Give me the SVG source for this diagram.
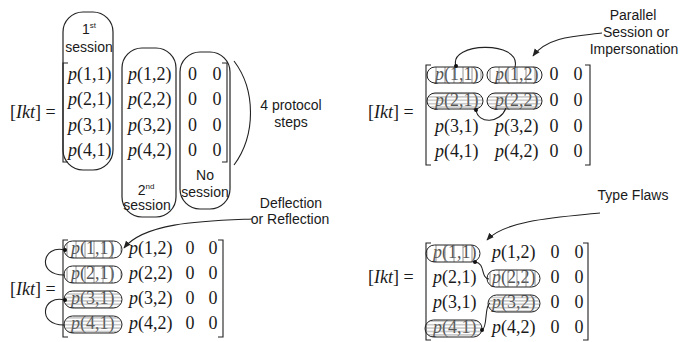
<svg xmlns="http://www.w3.org/2000/svg" width="680" height="342" viewBox="0 0 680 342">
<style>
.m{font-family:"Liberation Serif","Times New Roman",serif;font-size:18px;fill:#1a1a1a}
.g{fill:#555}
.i{font-style:italic}
.c{text-anchor:middle}
.s{font-family:"Liberation Sans",Arial,sans-serif;font-size:14px;fill:#1a1a1a;text-anchor:middle}
.sup{font-size:8px}
.br{fill:none;stroke:#222;stroke-width:1.1}
.box{fill:none;stroke:#222;stroke-width:1.2}
.ov{stroke:#222;stroke-width:1}
.ln{fill:none;stroke:#222;stroke-width:1.1}
</style>
<defs>
<pattern id="vh" width="9" height="4" patternUnits="userSpaceOnUse"><line x1="4" y1="0" x2="4" y2="4" stroke="#777" stroke-width="0.8"/></pattern>
<pattern id="hh" width="4" height="3.4" patternUnits="userSpaceOnUse"><line x1="0" y1="1.7" x2="4" y2="1.7" stroke="#777" stroke-width="0.7"/></pattern>
<marker id="ah" viewBox="0 0 10 10" refX="9" refY="5" markerWidth="7" markerHeight="7" orient="auto"><path d="M0,1 L10,5 L0,9 z" fill="#222"/></marker>
</defs>
<rect width="680" height="342" fill="#fff"/>

<!-- Top-left -->
<g id="tl-matrix">
<text class="m" x="10" y="118">[<tspan class="i">Ikt</tspan>] =</text>
<path class="br" d="M68,63 H63 V162 H68"/>
<path class="br" d="M222,63 H227 V162 H222"/>
<text class="m" x="68" y="80"><tspan class="i">p</tspan>(1,1)</text>
<text class="m" x="68" y="105"><tspan class="i">p</tspan>(2,1)</text>
<text class="m" x="68" y="131"><tspan class="i">p</tspan>(3,1)</text>
<text class="m" x="68" y="156"><tspan class="i">p</tspan>(4,1)</text>
<text class="m" x="128" y="80"><tspan class="i">p</tspan>(1,2)</text>
<text class="m" x="128" y="105"><tspan class="i">p</tspan>(2,2)</text>
<text class="m" x="128" y="131"><tspan class="i">p</tspan>(3,2)</text>
<text class="m" x="128" y="156"><tspan class="i">p</tspan>(4,2)</text>
<text class="m c" x="192.5" y="80">0</text><text class="m c" x="217" y="80">0</text>
<text class="m c" x="192.5" y="105">0</text><text class="m c" x="217" y="105">0</text>
<text class="m c" x="192.5" y="131">0</text><text class="m c" x="217" y="131">0</text>
<text class="m c" x="192.5" y="156">0</text><text class="m c" x="217" y="156">0</text>
</g>
<g id="first-session">
<rect class="box" x="63" y="12" width="50" height="158" rx="20"/>
<text class="s" x="89" y="34">1<tspan class="sup" dy="-6">st</tspan></text>
<text class="s" x="89" y="52">session</text>
</g>
<g id="second-session">
<rect class="box" x="122" y="48" width="54" height="169" rx="20"/>
<text class="s" x="146" y="195">2<tspan class="sup" dy="-6">nd</tspan></text>
<text class="s" x="147" y="210">session</text>
</g>
<g id="no-session">
<rect class="box" x="180" y="52" width="50" height="157" rx="20"/>
<text class="s" x="205" y="180">No</text>
<text class="s" x="205" y="197">session</text>
</g>
<g id="protocol-steps">
<path class="ln" d="M234,61 C256,90 256,135 234,165"/>
<text class="s" x="291" y="110">4 protocol</text>
<text class="s" x="291" y="127">steps</text>
</g>

<!-- Top-right -->
<g id="tr-matrix">
<text class="m" x="368" y="118">[<tspan class="i">Ikt</tspan>] =</text>
<path class="br" d="M431,65 H426 V165 H431"/>
<path class="br" d="M585,65 H590 V165 H585"/>
<text class="m g" x="435" y="80"><tspan class="i">p</tspan>(1,1)</text>
<text class="m g" x="435" y="106"><tspan class="i">p</tspan>(2,1)</text>
<text class="m" x="435" y="132"><tspan class="i">p</tspan>(3,1)</text>
<text class="m" x="435" y="157"><tspan class="i">p</tspan>(4,1)</text>
<text class="m g" x="495" y="80"><tspan class="i">p</tspan>(1,2)</text>
<text class="m g" x="495" y="106"><tspan class="i">p</tspan>(2,2)</text>
<text class="m" x="495" y="132"><tspan class="i">p</tspan>(3,2)</text>
<text class="m" x="495" y="157"><tspan class="i">p</tspan>(4,2)</text>
<text class="m c" x="554" y="80">0</text><text class="m c" x="578" y="80">0</text>
<text class="m c" x="554" y="106">0</text><text class="m c" x="578" y="106">0</text>
<text class="m c" x="554" y="132">0</text><text class="m c" x="578" y="132">0</text>
<text class="m c" x="554" y="157">0</text><text class="m c" x="578" y="157">0</text>
<rect class="ov" x="427" y="67" width="56" height="16" rx="8" fill="url(#vh)"/>
<rect class="ov" x="487" y="67" width="55" height="16" rx="8" fill="url(#vh)"/>
<rect class="ov" x="427" y="93" width="56" height="16" rx="8" fill="url(#hh)"/>
<rect class="ov" x="487" y="93" width="55" height="16" rx="8" fill="url(#hh)"/>
</g>
<g id="tr-label">
<text class="s" x="633" y="20">Parallel</text>
<text class="s" x="636" y="37">Session or</text>
<text class="s" x="634" y="54">Impersonation</text>
</g>

<!-- Bottom-left -->
<g id="bl-matrix">
<text class="m" x="10" y="295">[<tspan class="i">Ikt</tspan>] =</text>
<path class="br" d="M68,240 H63 V337 H68"/>
<path class="br" d="M218,240 H223 V337 H218"/>
<text class="m g" x="71" y="254"><tspan class="i">p</tspan>(1,1)</text>
<text class="m g" x="71" y="279"><tspan class="i">p</tspan>(2,1)</text>
<text class="m g" x="71" y="304"><tspan class="i">p</tspan>(3,1)</text>
<text class="m g" x="71" y="329"><tspan class="i">p</tspan>(4,1)</text>
<text class="m" x="129" y="254"><tspan class="i">p</tspan>(1,2)</text>
<text class="m" x="129" y="279"><tspan class="i">p</tspan>(2,2)</text>
<text class="m" x="129" y="304"><tspan class="i">p</tspan>(3,2)</text>
<text class="m" x="129" y="329"><tspan class="i">p</tspan>(4,2)</text>
<text class="m c" x="190" y="254">0</text><text class="m c" x="213" y="254">0</text>
<text class="m c" x="190" y="279">0</text><text class="m c" x="213" y="279">0</text>
<text class="m c" x="190" y="304">0</text><text class="m c" x="213" y="304">0</text>
<text class="m c" x="190" y="329">0</text><text class="m c" x="213" y="329">0</text>
<rect class="ov" x="64" y="241" width="58" height="17" rx="8.5" fill="url(#vh)"/>
<rect class="ov" x="64" y="266" width="58" height="17" rx="8.5" fill="url(#vh)"/>
<rect class="ov" x="64" y="291" width="58" height="17" rx="8.5" fill="url(#hh)"/>
<rect class="ov" x="64" y="316" width="58" height="17" rx="8.5" fill="url(#hh)"/>
</g>
<g id="bl-label">
<text class="s" x="291" y="208">Deflection</text>
<text class="s" x="290" y="224">or Reflection</text>
</g>

<!-- Bottom-right -->
<g id="br-matrix">
<text class="m" x="368" y="283">[<tspan class="i">Ikt</tspan>] =</text>
<path class="br" d="M431,243 H426 V340 H431"/>
<path class="br" d="M583,243 H588 V340 H583"/>
<text class="m g" x="433" y="257.5"><tspan class="i">p</tspan>(1,1)</text>
<text class="m" x="433" y="282.5"><tspan class="i">p</tspan>(2,1)</text>
<text class="m" x="433" y="307.5"><tspan class="i">p</tspan>(3,1)</text>
<text class="m g" x="433" y="332.5"><tspan class="i">p</tspan>(4,1)</text>
<text class="m" x="492" y="257.5"><tspan class="i">p</tspan>(1,2)</text>
<text class="m g" x="492" y="282.5"><tspan class="i">p</tspan>(2,2)</text>
<text class="m g" x="492" y="307.5"><tspan class="i">p</tspan>(3,2)</text>
<text class="m" x="492" y="332.5"><tspan class="i">p</tspan>(4,2)</text>
<text class="m c" x="555" y="257.5">0</text><text class="m c" x="579" y="257.5">0</text>
<text class="m c" x="555" y="282.5">0</text><text class="m c" x="579" y="282.5">0</text>
<text class="m c" x="555" y="307.5">0</text><text class="m c" x="579" y="307.5">0</text>
<text class="m c" x="555" y="332.5">0</text><text class="m c" x="579" y="332.5">0</text>
<rect class="ov" x="426" y="245" width="54" height="17" rx="8.5" fill="url(#vh)"/>
<rect class="ov" x="487" y="270" width="53" height="17" rx="8.5" fill="url(#vh)"/>
<rect class="ov" x="488" y="295" width="52" height="17" rx="8.5" fill="url(#hh)"/>
<rect class="ov" x="425" y="320" width="57" height="17" rx="8.5" fill="url(#hh)"/>
</g>
<g id="br-label">
<text class="s" x="633" y="200">Type Flaws</text>
</g>

<g id="connectors">
<path class="ln" d="M456,66 C448,42 522,40 515,67"/>
<circle cx="456" cy="66" r="2" fill="#111"/>
<path class="ln" d="M476,110 C478,124 500,124 506,108"/>
<circle cx="476" cy="110" r="2" fill="#111"/>
<path class="ln" d="M602,33 C578,36 548,36 533,56" marker-end="url(#ah)"/>
<path class="ln" d="M65,250 C42,244 36,276 65,275"/>
<circle cx="65" cy="250" r="2" fill="#111"/>
<path class="ln" d="M65,300 C42,294 36,326 65,325"/>
<circle cx="65" cy="300" r="2" fill="#111"/>
<path class="ln" d="M252,219 C205,221 145,222 124,248" marker-end="url(#ah)"/>
<path class="ln" d="M475,262 C486,263 480,278 489,279"/>
<circle cx="475" cy="262" r="2" fill="#111"/>
<path class="ln" d="M482,330 C488,328 484,306 490,303"/>
<circle cx="482" cy="330" r="2" fill="#111"/>
<path class="ln" d="M600,213 C560,217 505,220 487,240" marker-end="url(#ah)"/>
</g>
</svg>
